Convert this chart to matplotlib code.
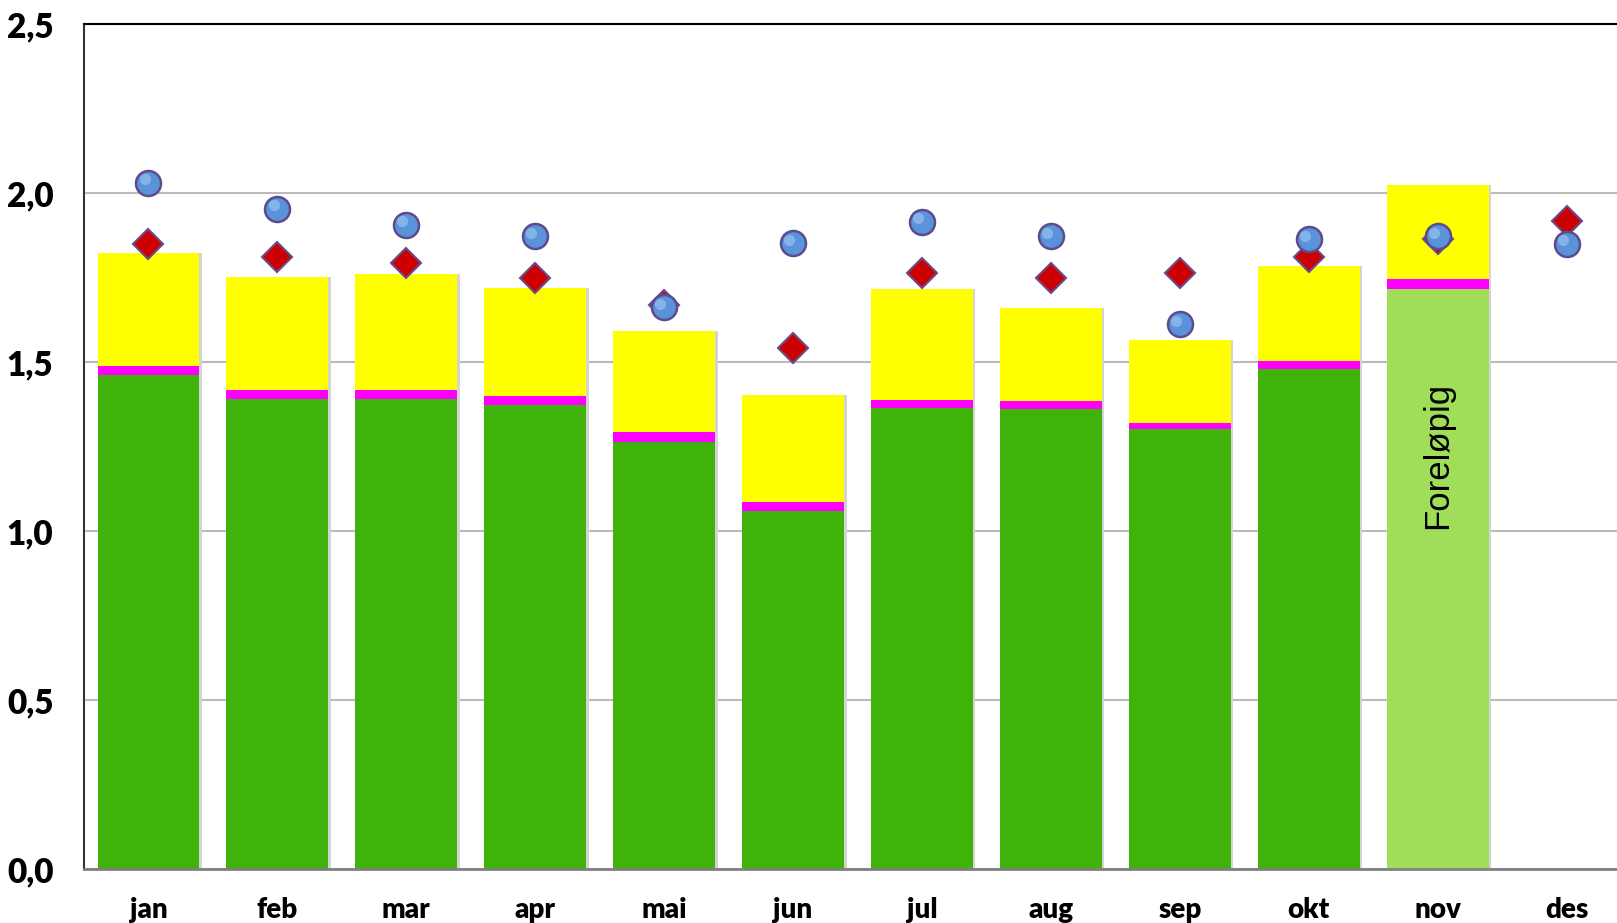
import matplotlib.pyplot as plt
import numpy as np

# monthly values
months = ['jan', 'feb', 'mar', 'apr', 'mai', 'jun', 'jul', 'aug', 'sep', 'okt', 'nov', 'des']
green = [1.462, 1.391, 1.392, 1.374, 1.262, 1.060, 1.363, 1.361, 1.301, 1.480, 1.715, np.nan]
magenta = [0.026, 0.027, 0.025, 0.024, 0.031, 0.025, 0.026, 0.025, 0.018, 0.024, 0.032, np.nan]
yellow = [0.334, 0.334, 0.342, 0.321, 0.300, 0.316, 0.328, 0.275, 0.245, 0.280, 0.276, np.nan]
circles = [2.030, 1.954, 1.906, 1.872, 1.663, 1.851, 1.915, 1.872, 1.612, 1.863, 1.873, 1.850]
diamonds = [1.848, 1.811, 1.793, 1.749, 1.668, 1.541, 1.762, 1.749, 1.762, 1.811, 1.865, 1.917]
yticks = [0.0, 0.5, 1.0, 1.5, 2.0, 2.5]
ytick_labels = ['0,0', '0,5', '1,0', '1,5', '2,0', '2,5']

fig = plt.figure(figsize=(16.17, 9.23), dpi=100)
# plot area runs a bit past the right edge of the picture
ax = fig.add_axes([84/1617, 1-869/923, (1631-84)/1617, (869-24)/923])

x = np.arange(len(months))
green_cols = ['#40B30A']*10 + ['#A0DE5A', '#40B30A']
w = 0.79

# soft shadow behind bars
tot = np.array(green) + np.array(magenta) + np.array(yellow)
ax.bar(x + 0.02, tot, w, color='#d4d4d4', zorder=1.5)
ax.bar(x, green, w, color=green_cols, zorder=2)
ax.bar(x, magenta, w, bottom=green, color='#FF00FF', zorder=2)
ax.bar(x, yellow, w, bottom=np.array(green) + np.array(magenta), color='#FFFF00', zorder=2)

ax.plot(x, diamonds, 'D', ms=15, mfc='#CC0000', mec='#6A4A8A', mew=1.5, zorder=3)
ax.plot(x, circles, 'o', ms=18, mfc='#5B93DA', mec='#5C4C8C', mew=1.8, zorder=4)
# little highlight on the balls
ax.plot(x - 0.03, np.array(circles) + 0.01, 'o', ms=8, mfc='#8FBCEE', mec='none', alpha=0.8, zorder=5)

ax.text(x[10], 1.225, 'Foreløpig', rotation=90, ha='center', va='center',
        fontsize=25, family=['Liberation Sans', 'DejaVu Sans'], zorder=6)

ax.set_xlim(-0.5, 11.5)
ax.set_ylim(0, 2.5)
ax.set_yticks(yticks)
ax.set_yticklabels(ytick_labels, fontsize=24, fontweight='heavy', family=['Lato', 'DejaVu Sans'])
ax.set_xticks(x)
ax.set_xticklabels(months, fontsize=20, fontweight='heavy', family=['Lato', 'DejaVu Sans'])
ax.tick_params(axis='y', length=0, pad=22)
ax.tick_params(axis='x', length=0, pad=20)

ax.yaxis.grid(True, color='#BBBBBB', lw=1.5, zorder=0)
ax.set_axisbelow(True)
ax.spines['right'].set_visible(False)
ax.spines['top'].set_color('black')
ax.spines['top'].set_linewidth(1.5)
ax.spines['left'].set_color('#333333')
ax.spines['left'].set_linewidth(1.5)
ax.spines['bottom'].set_color('#808080')
ax.spines['bottom'].set_linewidth(2)

fig.savefig('out.png', dpi=100)
